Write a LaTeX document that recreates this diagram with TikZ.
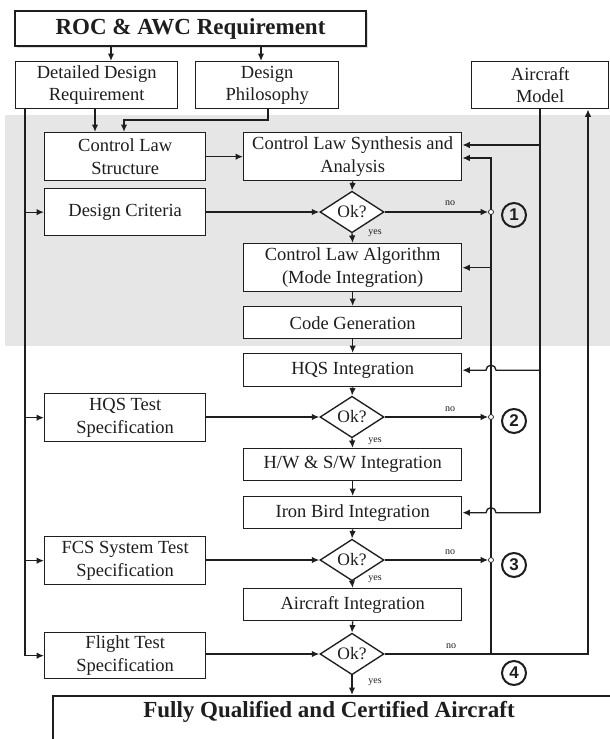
\documentclass[tikz,border=0pt]{standalone}
\usepackage{fontspec}
\setmainfont{Liberation Serif}
\newfontfamily\numfont{Liberation Sans}
\usetikzlibrary{arrows.meta,shapes.geometric,shadows,calc}
\definecolor{ink}{HTML}{1E1E1E}
\definecolor{band}{HTML}{E6E6E6}
\tikzset{
  bx/.style={draw=ink, line width=1.35pt, fill=white, align=center, inner sep=0pt,
    text=ink, font=\fontsize{18.5}{22.5}\selectfont, anchor=north west},
  dia/.style={diamond, draw=ink, line width=1.35pt, fill=white, minimum width=64pt,
    minimum height=31pt, inner sep=0pt, text=ink, font=\fontsize{17.5}{20}\selectfont},
  con/.style={draw=ink, line width=1.35pt},
  arr/.style={con, -{Latex[length=7.5pt,width=6.5pt]}},
  num/.style={circle, draw=ink, line width=2pt, minimum size=24pt, inner sep=0pt,
    text=ink, font=\numfont\bfseries\fontsize{17}{17}\selectfont},
  jn/.style={circle, draw=ink, line width=0.7pt, fill=white, minimum size=5pt, inner sep=0pt},
  lbl/.style={font=\fontsize{10}{10}\selectfont, inner sep=0pt, text=ink},
  shd/.style={drop shadow={opacity=0.25, shadow xshift=2pt, shadow yshift=-2pt}},
}
\begin{document}
\begin{tikzpicture}[x=1pt,y=-1pt]
\clip (0,0) rectangle (610,739);
\fill[white] (0,0) rectangle (610,739);
\fill[band] (5,115) rectangle (610,346);

% column coordinates
\coordinate (xa) at (111,0);
\coordinate (xb) at (261,0);
\coordinate (xl) at (25,0);
\coordinate (xc) at (95,0);
\coordinate (xd) at (268,0);
\coordinate (xe) at (124,0);
\coordinate (xloop) at (491,0);
\coordinate (xm) at (540,0);
\coordinate (xr) at (588,0);

% boxes
\node[bx, shd, minimum width=351pt, minimum height=35pt, line width=2pt,
  font=\bfseries\fontsize{23}{26}\selectfont] (roc) at (14,10) {ROC \& AWC Requirement};
\node[bx, minimum width=162pt, minimum height=47pt] (ddr) at (15,61) {Detailed Design\\Requirement};
\node[bx, minimum width=143pt, minimum height=47pt] (dp) at (195,61) {Design\\Philosophy};
\node[bx, minimum width=137pt, minimum height=47pt] (model) at (471,61) {Aircraft\\Model};
\node[bx, minimum width=161pt, minimum height=48pt] (cls) at (44,132) {Control Law\\Structure};
\node[bx, minimum width=218pt, minimum height=48pt] (clsa) at (243,132) {Control Law Synthesis and\\Analysis};
\node[bx, minimum width=161pt, minimum height=47pt] (dc) at (44,188) {Design Criteria};
\node[bx, minimum width=218pt, minimum height=48pt] (cla) at (243,243) {Control Law Algorithm\\(Mode Integration)};
\node[bx, minimum width=218pt, minimum height=32pt] (cg) at (243,306) {Code Generation};
\node[bx, minimum width=218pt, minimum height=33pt] (hqs) at (243,353) {HQS Integration};
\node[bx, minimum width=161pt, minimum height=48pt] (hqst) at (44,393) {HQS Test\\Specification};
\node[bx, minimum width=218pt, minimum height=32pt] (hw) at (243,448) {H/W \& S/W Integration};
\node[bx, minimum width=218pt, minimum height=32pt] (ib) at (243,496) {Iron Bird Integration};
\node[bx, minimum width=161pt, minimum height=48pt] (fcs) at (44,536) {FCS System Test\\Specification};
\node[bx, minimum width=218pt, minimum height=32pt] (ai) at (243,588) {Aircraft Integration};
\node[bx, minimum width=161pt, minimum height=46pt] (ft) at (44,632) {Flight Test\\Specification};
\node[bx, shd, minimum width=570pt, minimum height=70pt, line width=2pt] (final) at (52,695) {};
\node[text=ink, inner sep=0pt, font=\bfseries\fontsize{23}{26}\selectfont] (finaltext) at (329,712) {Fully Qualified and Certified Aircraft};

% decisions
\node[dia] (d1) at (352,212) {Ok?};
\node[dia] (d2) at (352,417) {Ok?};
\node[dia] (d3) at (352,560) {Ok?};
\node[dia] (d4) at (352,654) {Ok?};

% top connectors
\draw[arr] (roc.south -| xa) -- (ddr.north -| xa);
\draw[arr] (roc.south -| xb) -- (dp.north -| xb);
\draw[arr] (ddr.south -| xc) -- (cls.north -| xc);
\coordinate (dpturn) at (268,120);
\draw[arr] (dp.south -| xd) -- (dpturn) -- (dpturn -| xe) -- (cls.north -| xe);

% left spine
\draw[arr] (ddr.south -| xl) |- (ft.west);
\draw[arr] (dc.west -| xl) -- (dc.west);
\draw[arr] (hqst.west -| xl) -- (hqst.west);
\draw[arr] (fcs.west -| xl) -- (fcs.west);

% main flow
\draw[arr] (cls) -- (clsa);
\draw[arr] (clsa.south) -- (d1.north);
\draw[arr] (d1.south) -- (cla.north);
\draw[arr] (cla.south) -- (cg.north);
\draw[arr] (cg.south) -- (hqs.north);
\draw[arr] (hqs.south) -- (d2.north);
\draw[arr] (d2.south) -- (hw.north);
\draw[arr] (hw.south) -- (ib.north);
\draw[arr] (ib.south) -- (d3.north);
\draw[arr] (d3.south) -- (ai.north);
\draw[arr] (ai.south) -- (d4.north);
\draw[arr] (d4.south) -- (d4.south |- final.north);

\draw[arr] (dc.east |- d1) -- (d1.west);
\draw[arr] (hqst.east |- d2) -- (d2.west);
\draw[arr] (fcs.east |- d3) -- (d3.west);
\draw[arr] (ft.east |- d4) -- (d4.west);

% loop line
\coordinate (lt) at (491,158);
\coordinate (lb) at (491,654);
\draw[arr] (lb) -- (lt) -- (clsa.east |- lt);
\draw[arr] (cla.east -| xloop) -- (cla.east);

% model line
\coordinate (mt) at (540,145);
\draw[arr] (model.south -| xm) -- (mt) -- (clsa.east |- mt);
\draw[con] (mt) -- (ib.east -| xm);
\draw[arr] (hqs.east -| xm) -- ($(hqs.east -| xloop)+(5,0)$) arc[start angle=0, end angle=180, radius=5pt] -- (hqs.east);
\draw[arr] (ib.east -| xm) -- ($(ib.east -| xloop)+(5,0)$) arc[start angle=0, end angle=180, radius=5pt] -- (ib.east);

% bottom return
\draw[arr] (d4.east) -- (d4.east -| xr) -- (model.south -| xr);

% junctions and no branches
\node[jn] (j1) at (491,212) {};
\node[jn] (j2) at (491,417) {};
\node[jn] (j3) at (491,560) {};
\draw[arr] (d1.east) -- (j1);
\draw[arr] (d2.east) -- (j2);
\draw[arr] (d3.east) -- (j3);

% labels
\node[lbl] (no1) at (450,203) {no};
\node[lbl] (no2) at (450,409) {no};
\node[lbl] (no3) at (450,552) {no};
\node[lbl] (no4) at (451,646) {no};
\node[lbl] (yes1) at (375,233) {yes};
\node[lbl] (yes2) at (375,441) {yes};
\node[lbl] (yes3) at (375,579) {yes};
\node[lbl] (yes4) at (375,682) {yes};

% circled numbers
\node[num] (n1) at (514,215) {1};
\node[num] (n2) at (514,421) {2};
\node[num] (n3) at (514,565) {3};
\node[num] (n4) at (514,673) {4};
\end{tikzpicture}
\end{document}
